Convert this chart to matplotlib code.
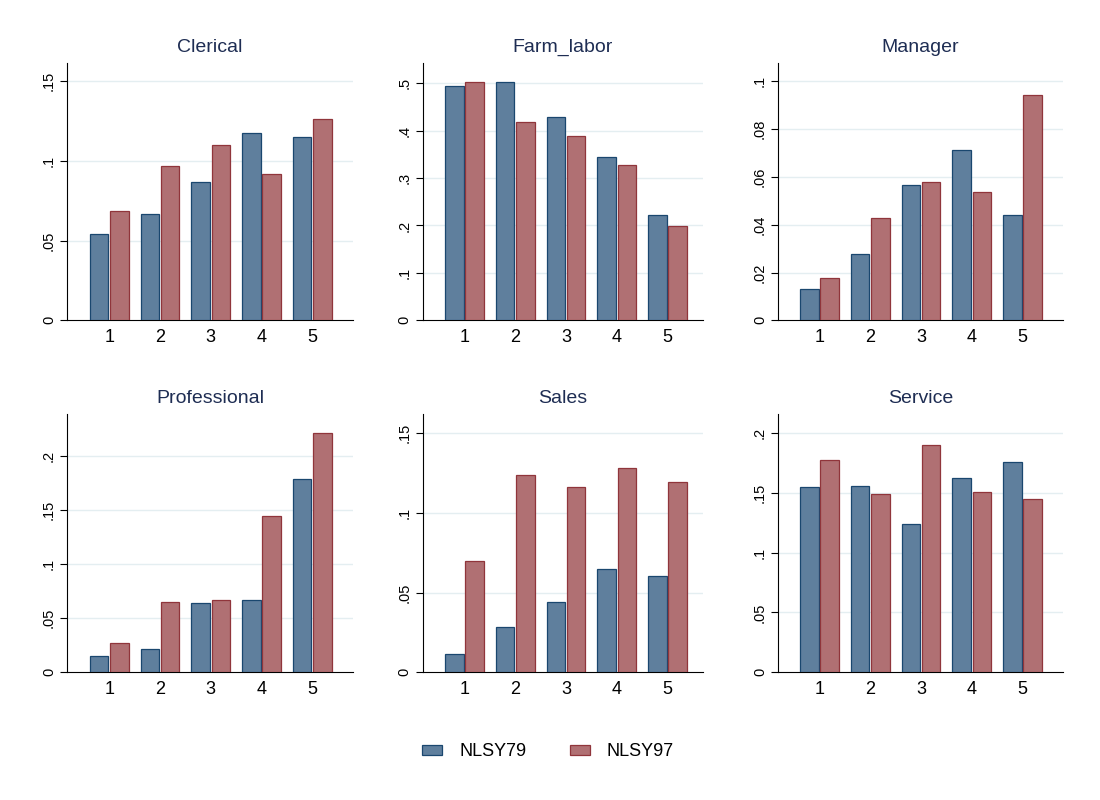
import numpy as np
import matplotlib
matplotlib.use("Agg")
import matplotlib.pyplot as plt
from matplotlib.ticker import FuncFormatter

plt.rcParams['font.family'] = ['Liberation Sans', 'DejaVu Sans']

groups = [1, 2, 3, 4, 5]
series = ["NLSY79", "NLSY97"]
titles = ["Clerical", "Farm_labor", "Manager", "Professional", "Sales", "Service"]

nlsy79 = {
    "Clerical":     [0.054, 0.0665, 0.087, 0.1177, 0.115],
    "Farm_labor":   [0.494, 0.502, 0.428, 0.345, 0.223],
    "Manager":      [0.013, 0.0279, 0.0568, 0.0711, 0.0442],
    "Professional": [0.0148, 0.0216, 0.0644, 0.0672, 0.1784],
    "Sales":        [0.0117, 0.0282, 0.0441, 0.0646, 0.0607],
    "Service":      [0.1546, 0.1554, 0.124, 0.1627, 0.1755],
}
nlsy97 = {
    "Clerical":     [0.0684, 0.097, 0.1098, 0.092, 0.1265],
    "Farm_labor":   [0.5035, 0.419, 0.3896, 0.327, 0.198],
    "Manager":      [0.01785, 0.0427, 0.058, 0.0537, 0.0943],
    "Professional": [0.0268, 0.0647, 0.0672, 0.1448, 0.221],
    "Sales":        [0.0701, 0.1236, 0.1165, 0.1285, 0.1197],
    "Service":      [0.1774, 0.1487, 0.1897, 0.151, 0.1451],
}
yticks = {
    "Clerical":     [0, 0.05, 0.1, 0.15],
    "Farm_labor":   [0, 0.1, 0.2, 0.3, 0.4, 0.5],
    "Manager":      [0, 0.02, 0.04, 0.06, 0.08, 0.1],
    "Professional": [0, 0.05, 0.1, 0.15, 0.2],
    "Sales":        [0, 0.05, 0.1, 0.15],
    "Service":      [0, 0.05, 0.1, 0.15, 0.2],
}
ytop = {"Clerical": 0.1614, "Farm_labor": 0.5428, "Manager": 0.1077,
        "Professional": 0.2388, "Sales": 0.1621, "Service": 0.2159}

blue_fill, blue_edge = '#5f7f9d', '#1a476f'
red_fill, red_edge = '#b07073', '#90353b'
title_col = '#1e2d53'
grid_col = '#e4eef1'

W, H = 1100, 800
fig = plt.figure(figsize=(11, 8), dpi=100)

# pixel layout: (left, right, first group centre) per column; (top, bottom) per row
cols = [(67, 353, 109.3), (422.7, 703, 464.5), (778, 1063, 819.5)]
rows = [(63, 320.3), (414, 672.3)]
step = 50.75


def fmt(v, pos):
    if abs(v) < 1e-12:
        return "0"
    s = ("%.2f" % v).rstrip('0').rstrip('.')
    return s.replace("0.", ".", 1) if s.startswith("0.") else s


x = np.array(groups)
bw = 0.365
axes = []
for k, name in enumerate(titles):
    r, c = divmod(k, 3)
    left, right, c1 = cols[c]
    top, bottom = rows[r]
    ax = fig.add_axes([left / W, 1 - bottom / H, (right - left) / W, (bottom - top) / H])
    axes.append(ax)
    xlo = 1 - (c1 - left) / step
    ax.set_xlim(xlo, xlo + (right - left) / step)
    ax.set_ylim(0, ytop[name])

    ax.bar(x - 0.2, nlsy79[name], bw, color=blue_fill, edgecolor=blue_edge,
           linewidth=0.9, label=series[0], zorder=3)
    ax.bar(x + 0.2, nlsy97[name], bw, color=red_fill, edgecolor=red_edge,
           linewidth=0.9, label=series[1], zorder=3)

    ax.set_yticks(yticks[name])
    ax.yaxis.set_major_formatter(FuncFormatter(fmt))
    for t in yticks[name][1:]:
        ax.axhline(t, color=grid_col, linewidth=1.0, zorder=1)
    ax.set_xticks(groups)
    ax.set_xticklabels([str(g) for g in groups])

    ax.tick_params(axis='x', length=0, pad=6, labelsize=13)
    ax.tick_params(axis='y', length=5, width=0.8, pad=3, labelsize=10.5, direction='out')
    for lab in ax.get_yticklabels():
        lab.set_rotation(90)
        lab.set_va('center')
    for s in ['top', 'right']:
        ax.spines[s].set_visible(False)
    ax.spines['left'].set_linewidth(0.8)
    ax.spines['bottom'].set_linewidth(0.8)
    ax.set_title(name, fontsize=14, color=title_col, pad=8)

handles, labels = axes[0].get_legend_handles_labels()
fig.legend(handles, labels, loc='center', bbox_to_anchor=(548 / W, 1 - 752 / H),
           ncol=2, frameon=False, fontsize=13, handlelength=1.1, handleheight=0.5,
           handletextpad=0.95, columnspacing=2.4)

fig.savefig("out.png", dpi=100, facecolor='white')
